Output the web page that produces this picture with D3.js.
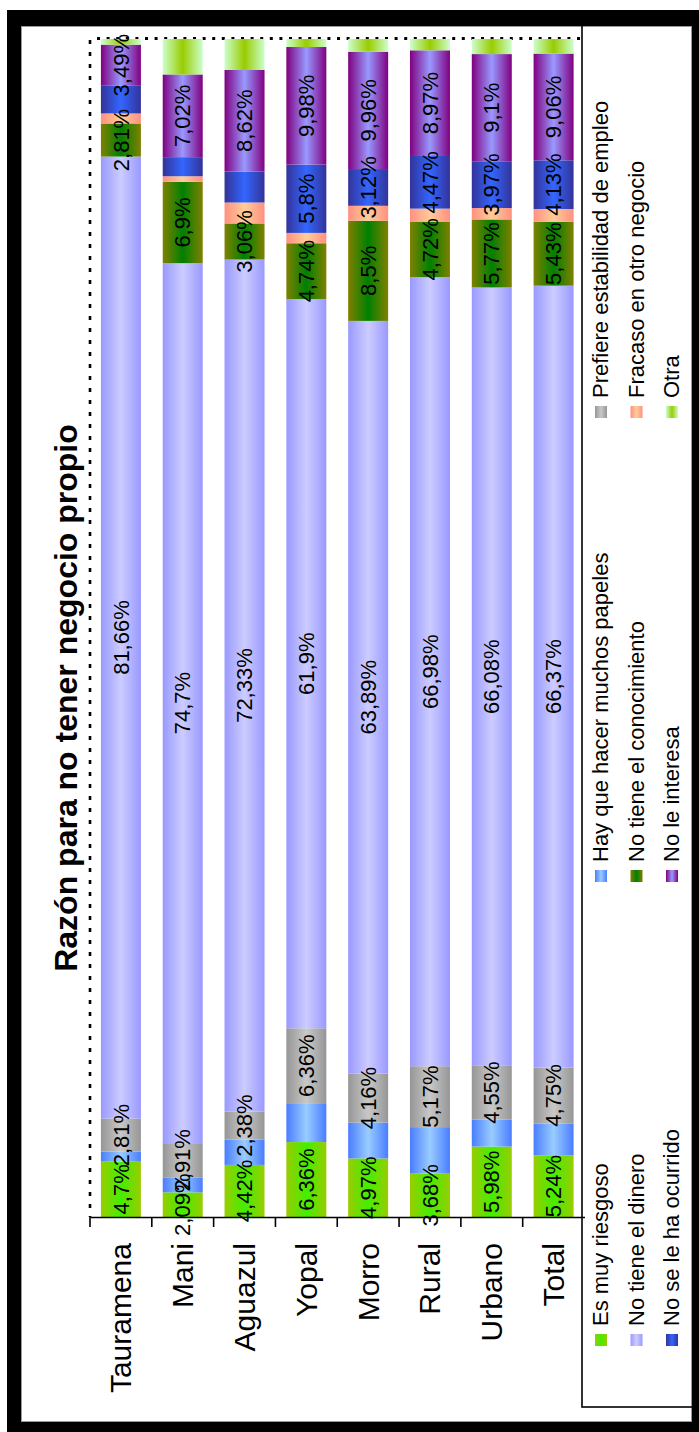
<!DOCTYPE html>
<html><head><meta charset="utf-8">
<script src="https://cdn.jsdelivr.net/npm/d3@7"></script>
<style>body{margin:0;background:#fff}</style>
</head><body><svg id="c" width="699" height="1432"></svg>
<script>
const categories = ["Tauramena","Mani","Aguazul","Yopal","Morro","Rural","Urbano","Total"];
const seriesNames = ["Es muy riesgoso","Hay que hacer muchos papeles","Prefiere estabilidad de empleo",
  "No tiene el dinero","No tiene el conocimiento","Fracaso en otro negocio",
  "No se le ha ocurrido","No le interesa","Otra"];
const esMuyRiesgoso       = [4.7, 2.09, 4.42, 6.36, 4.97, 3.68, 5.98, 5.24];
const hayQueHacerPapeles  = [0.85, 1.27, 2.15, 3.3, 3.05, 3.95, 2.3, 2.7];
const prefiereEstabilidad = [2.81, 2.91, 2.38, 6.36, 4.16, 5.17, 4.55, 4.75];
const noTieneDinero       = [81.66, 74.7, 72.33, 61.9, 63.89, 66.98, 66.08, 66.37];
const noTieneConocimiento = [2.81, 6.9, 3.06, 4.74, 8.5, 4.72, 5.77, 5.43];
const fracasoOtroNegocio  = [0.85, 0.48, 1.78, 0.88, 1.27, 1.1, 0.97, 1.08];
const noSeLeHaOcurrido    = [2.35, 1.62, 2.63, 5.8, 3.12, 4.47, 3.97, 4.13];
const noLeInteresa        = [3.49, 7.02, 8.62, 9.98, 9.96, 8.97, 9.1, 9.06];
const otra                = [0.48, 3.01, 2.63, 0.68, 1.08, 0.96, 1.28, 1.24];
const seriesValues = [esMuyRiesgoso, hayQueHacerPapeles, prefiereEstabilidad, noTieneDinero,
  noTieneConocimiento, fracasoOtroNegocio, noSeLeHaOcurrido, noLeInteresa, otra];
// which data labels are displayed (per series, per category)
const allOn = [1,1,1,1,1,1,1,1], allOff = [0,0,0,0,0,0,0,0];
const labelShown = [allOn, allOff, allOn, allOn, allOn, allOff, [0,0,0,1,1,1,1,1], allOn, allOff];
// gradient colours: edge, centre
const edgeColors   = ["#99cc00","#4a7dff","#969696","#9999ff","#808000","#ff9080","#333399","#800080","#ccffcc"];
const centerColors = ["#44ee00","#99ccff","#c8c8c8","#ccccff","#008000","#ffcc99","#3366ff","#9999ff","#99cc00"];

const svg = d3.select("#c");
const FONT = "'Liberation Sans', Arial, sans-serif";

// frame
svg.append("rect").attr("x",7).attr("y",10).attr("width",692).attr("height",1422).attr("fill","#000");
svg.append("rect").attr("x",21.5).attr("y",26.5).attr("width",670).attr("height",1395)
  .attr("fill","#fff").attr("stroke","#999").attr("stroke-width",1);

const defs = svg.append("defs");
seriesNames.forEach((s,i)=>{
  const g = defs.append("linearGradient").attr("id","g"+i).attr("x1",0).attr("x2",1).attr("y1",0).attr("y2",0);
  g.append("stop").attr("offset","0%").attr("stop-color",edgeColors[i]);
  g.append("stop").attr("offset","50%").attr("stop-color",centerColors[i]);
  g.append("stop").attr("offset","100%").attr("stop-color",edgeColors[i]);
});

const x = d3.scaleBand().domain(categories).range([90, 584.5]).paddingInner(0.353).paddingOuter(0.1765);
const y = d3.scaleLinear().domain([0,100]).range([1217, 39]);

const table = categories.map((c,j)=>{
  const row = {cat:c};
  seriesNames.forEach((s,i)=>row[s]=seriesValues[i][j]);
  return row;
});
const stacked = d3.stack().keys(seriesNames)(table);

// plot-area dotted border
svg.append("line").attr("x1",90).attr("x2",90).attr("y1",40).attr("y2",1217)
  .attr("stroke","#000").attr("stroke-width",2.6).attr("stroke-dasharray","4,8");
svg.append("line").attr("x1",97).attr("x2",582).attr("y1",38.5).attr("y2",38.5)
  .attr("stroke","#000").attr("stroke-width",3).attr("stroke-dasharray","3,6.6");

// bars
stacked.forEach((layer,i)=>{
  svg.append("g").selectAll("rect").data(layer).join("rect")
    .attr("x", d=>x(d.data.cat))
    .attr("width", x.bandwidth())
    .attr("y", d=>y(d[1]))
    .attr("height", d=>y(d[0])-y(d[1]))
    .attr("fill","url(#g"+i+")");
});

// axis
const axis = svg.append("g").attr("transform","translate(0,1217)")
  .call(d3.axisBottom(x).tickSize(0).tickSizeOuter(0).tickFormat(""));
axis.select(".domain").attr("stroke","#000").attr("stroke-width",1.6);
const bounds = categories.map(c=>x(c)-x.step()*x.paddingInner()/2);
bounds[0] = 90;
svg.append("g").selectAll("line").data(bounds).join("line")
  .attr("x1",d=>d).attr("x2",d=>d).attr("y1",1217).attr("y2",1227)
  .attr("stroke","#000").attr("stroke-width",1.6);

// category labels
svg.append("g").selectAll("text").data(categories).join("text")
  .attr("transform", c=>`translate(${x(c)+x.bandwidth()/2},1243) rotate(-90)`)
  .attr("dy","0.35em").attr("text-anchor","end")
  .attr("font-family",FONT).attr("font-size",30).attr("fill","#000")
  .text(c=>c);

// data labels
const fmt = v => String(v).replace(".", ",") + "%";
stacked.forEach((layer,i)=>{
  svg.append("g").selectAll("text").data(layer.filter((d,j)=>labelShown[i][j])).join("text")
    .attr("transform", d=>`translate(${x(d.data.cat)+x.bandwidth()/2},${(y(d[0])+y(d[1]))/2}) rotate(-90)`)
    .attr("dy","0.35em").attr("text-anchor","middle")
    .attr("font-family",FONT).attr("font-size",22).attr("fill","#000")
    .text(d=>fmt(+(d[1]-d[0]).toFixed(2)));
});

// legend
svg.append("rect").attr("x",582).attr("y",25).attr("width",112).attr("height",1382)
  .attr("fill","none").attr("stroke","#000").attr("stroke-width",1.6);
const leg = svg.append("g");
seriesNames.forEach((s,i)=>{
  const r = Math.floor(i/3), c = i%3;
  const cx = 601 + r*35.5, cy = 1340 - c*464;
  leg.append("rect").attr("x",cx-6).attr("y",cy-6).attr("width",12).attr("height",12)
    .attr("fill","url(#g"+i+")");
  leg.append("text").attr("transform",`translate(${cx+7},${cy-14}) rotate(-90)`)
    .attr("font-family",FONT).attr("font-size",22).attr("fill","#000").text(s);
});

// title
svg.append("text").attr("transform","translate(77,698) rotate(-90)")
  .attr("text-anchor","middle").attr("font-family",FONT).attr("font-weight","bold")
  .attr("font-size",32).attr("fill","#000").text("Razón para no tener negocio propio");
</script>
</body></html>
